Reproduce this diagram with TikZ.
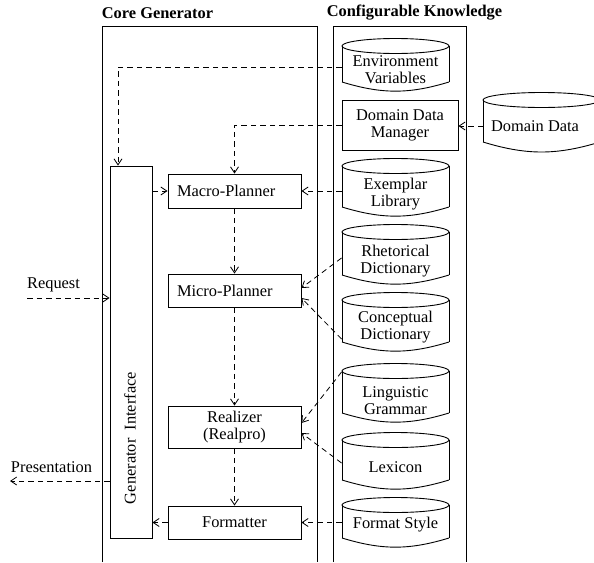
\documentclass[tikz,border=0pt]{standalone}
\usepackage{fontspec}
\setmainfont{Liberation Serif}
\usetikzlibrary{arrows.meta,calc}
\newcommand{\kcyl}[5]{%
  \draw (#1,#4) -- (#1,#3) (#2,#3) -- (#2,#4);
  \draw ({(#1+#2)/2},#3) ellipse [x radius={(#2-#1)/2}, y radius=7.5];
  \draw (#1,#4) to[out=-17,in=-163] (#2,#4);
}
\begin{document}
\begin{tikzpicture}[x=1pt,y=-1pt, line width=0.9pt,
  conn/.style={draw, line width=0.8pt, dash pattern=on 5.5pt off 4pt, -{Straight Barb[length=6pt,width=8pt]}},
  box/.style={draw, minimum width=133pt, inner sep=0pt},
  kb/.style={minimum width=107pt, inner sep=0pt, align=center},
  every node/.append style={font=\fontsize{16.4pt}{17pt}\selectfont},
  ttl/.style={font=\bfseries\fontsize{16.4pt}{17pt}\selectfont}]
\useasboundingbox (0,0) rectangle (594,562);

% frames
\draw[line width=1pt] (102,562) -- (102,26) -- (317,26) -- (317,562);
\draw[line width=1pt] (333,562) -- (333,26) -- (466,26) -- (466,562);
\node[ttl] (tcore) at (157.5,13) {Core Generator};
\node[ttl] (tconf) at (414.5,13) {Configurable Knowledge};

% cylinders
\kcyl{342}{449}{46}{82}{91}
\kcyl{342}{449}{166}{207}{215}
\kcyl{342}{449}{232}{275}{282}
\kcyl{342}{449}{300}{342}{348}
\kcyl{342}{449}{371}{413}{423}
\kcyl{342}{449}{440}{480}{488}
\kcyl{342}{449}{505}{538}{547}
\kcyl{483}{600}{100}{142}{150}

\node[kb] (envv) at (395.5,70) {Environment\\Variables};
\node[kb] (exlib) at (395.5,194.5) {Exemplar\\Library};
\node[kb] (rhet) at (395.5,261) {Rhetorical\\Dictionary};
\node[kb] (conc) at (395.5,327) {Conceptual\\Dictionary};
\node[kb] (ling) at (395.5,401) {Linguistic\\Grammar};
\node[kb] (lex) at (395.5,467) {Lexicon};
\node[kb] (fmt) at (395.5,525) {Format Style};
\node[inner sep=0pt, minimum width=104pt] (dd) at (535,126) {Domain Data};

% boxes
\node[box, minimum width=116pt, minimum height=50pt, align=center] (ddm) at (400,125) {Domain Data\\Manager};
\node[box, minimum height=34pt, text width=115pt, inner xsep=9pt, align=left] (macro) at (234.5,191) {Macro-Planner};
\node[box, minimum height=33pt, text width=115pt, inner xsep=9pt, align=left] (micro) at (234.5,290.5) {Micro-Planner};
\node[box, minimum height=42pt, align=center] (real) at (234.5,427) {Realizer\\(Realpro)};
\node[box, minimum height=33pt] (form) at (234.5,522.5) {Formatter};
\node[draw, minimum width=42pt, minimum height=372pt, inner sep=0pt] (geni) at (131,352) {};
\node[rotate=90] (genitxt) at (130,438) {Generator\ \ Interface};

% connectors
\draw[conn] ([yshift=3pt]envv.west) -| ([xshift=-13pt]geni.north);
\draw[conn] (ddm.west) -| (macro.north);
\draw[conn] (dd.west -| 483,0) -- (ddm.east |- dd.west);
\draw[conn] (exlib.west |- macro.east) -- (macro.east);
\draw[conn] (geni.east |- macro.west) -- (macro.west);
\draw[conn] (macro.south) -- (micro.north);
\draw[conn] (micro.south) -- (real.north);
\draw[conn] (real.south) -- (form.north);
\draw[conn] ([yshift=3pt]rhet.west) -- ([yshift=2.5pt]micro.east);
\draw[conn] ([yshift=-12pt]conc.west) -- ([yshift=-7.5pt]micro.east);
\draw[conn] ([yshift=29pt]ling.west) -- ([yshift=4pt]real.east);
\draw[conn] ([yshift=4pt]lex.west) -- ([yshift=-6pt]real.east);
\draw[conn] (fmt.west |- form.east) -- (form.east);
\draw[conn] (form.west) -- (geni.east |- form.west);

\coordinate (req) at (27,298);
\draw[conn] (req) -- (geni.west |- req);
\node (reqlbl) at (53.5,285) {Request};
\coordinate (pres) at (10,481);
\draw[conn] (geni.west |- pres) -- (pres);
\node (preslbl) at (51.5,467) {Presentation};
\end{tikzpicture}
\end{document}
